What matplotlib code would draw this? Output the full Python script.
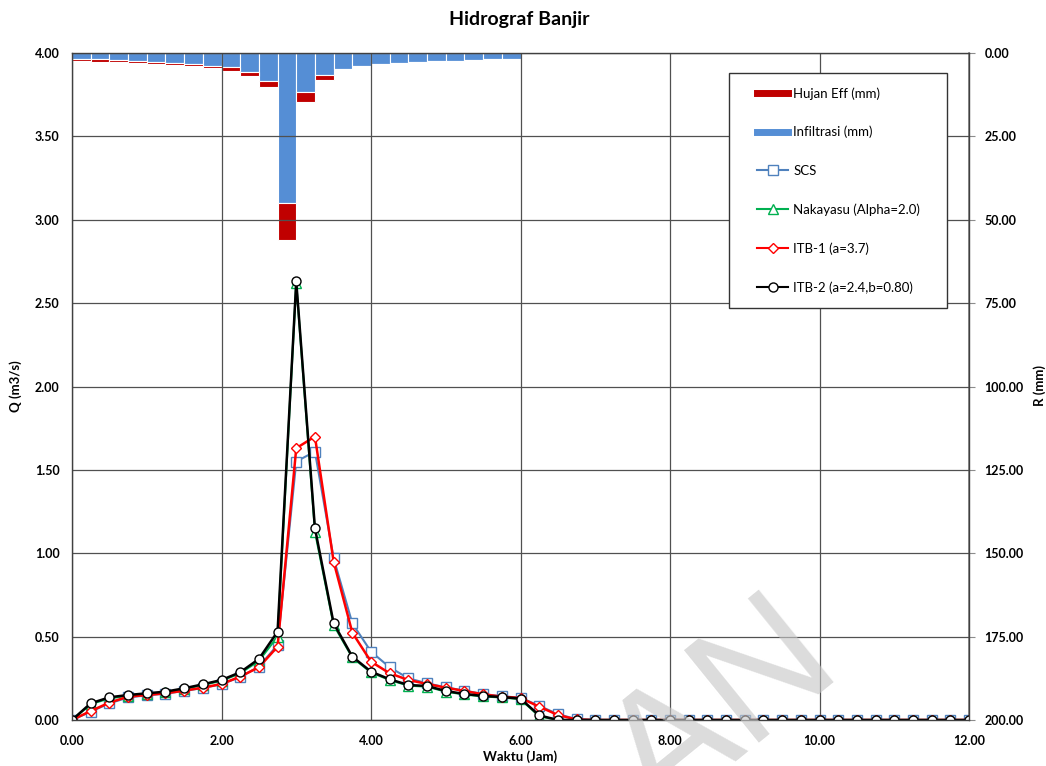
import numpy as np
import matplotlib
matplotlib.use("Agg")
import matplotlib.pyplot as plt
from matplotlib.lines import Line2D
from matplotlib.patches import Rectangle

plt.rcParams['font.family'] = ['Lato', 'DejaVu Sans']

# ---------------- data ----------------
time_step = 0.25
t = np.arange(0, 12.0 + 1e-9, time_step)          # hours, 49 points

scs = [0, 0.05, 0.10, 0.135, 0.148, 0.158, 0.174, 0.192, 0.214, 0.258, 0.32, 0.45,
       1.55, 1.61, 0.97, 0.58, 0.41, 0.316, 0.25, 0.22, 0.196, 0.176, 0.156, 0.142,
       0.134, 0.085, 0.035, 0.005] + [0.0] * 21
nakayasu = [0, 0.095, 0.13, 0.145, 0.155, 0.165, 0.185, 0.21, 0.235, 0.28, 0.355, 0.50,
            2.62, 1.13, 0.57, 0.375, 0.285, 0.24, 0.206, 0.20, 0.17, 0.153, 0.141, 0.135,
            0.125, 0.022, 0.0] + [0.0] * 22
itb1 = [0, 0.054, 0.104, 0.14, 0.15, 0.16, 0.176, 0.194, 0.216, 0.26, 0.316, 0.44,
        1.63, 1.70, 0.95, 0.524, 0.35, 0.28, 0.24, 0.216, 0.194, 0.174, 0.154, 0.14,
        0.132, 0.08, 0.03, 0.003] + [0.0] * 21
itb2 = [0, 0.10, 0.136, 0.15, 0.16, 0.17, 0.19, 0.214, 0.24, 0.286, 0.366, 0.53,
        2.63, 1.15, 0.58, 0.38, 0.29, 0.244, 0.21, 0.204, 0.174, 0.156, 0.144, 0.138,
        0.128, 0.028, 0.0] + [0.0] * 22

# rainfall per 0.25 h interval (mm), 0 - 6 h
infiltrasi = [1.8, 1.8, 2.1, 2.3, 2.6, 2.9, 3.3, 3.8, 4.3, 5.8, 8.3, 44.9,
              11.8, 6.6, 4.9, 3.8, 3.4, 2.9, 2.7, 2.3, 2.3, 2.1, 1.9, 1.9]
hujan_eff = [0.6, 0.8, 0.6, 0.8, 0.6, 0.7, 0.7, 0.8, 1.2, 1.1, 1.9, 11.2,
             2.8, 1.5, 0, 0, 0, 0, 0, 0, 0, 0, 0, 0]
rain_start = np.arange(len(infiltrasi)) * time_step

x_ticks = [0, 2, 4, 6, 8, 10, 12]
q_ticks = [0, 0.5, 1.0, 1.5, 2.0, 2.5, 3.0, 3.5, 4.0]
r_ticks = [0, 25, 50, 75, 100, 125, 150, 175, 200]

legend_labels = ['Hujan Eff (mm)', 'Infiltrasi (mm)', 'SCS', 'Nakayasu (Alpha=2.0)',
                 'ITB-1 (a=3.7)', 'ITB-2 (a=2.4,b=0.80)']

# ---------------- colors ----------------
c_blue_bar = '#558ED5'
c_red_bar = '#C00000'
c_scs = '#4F81BD'
c_nak = '#00B050'
c_itb1 = '#FF0000'
c_itb2 = '#000000'
grid_c = '#505050'

W, H = 1046, 766
fig = plt.figure(figsize=(W / 100, H / 100), dpi=100)
L, R, B, T = 72, 969, 720, 53
ax = fig.add_axes([L / W, 1 - B / H, (R - L) / W, (B - T) / H])

ax.set_xlim(0, 12)
ax.set_ylim(0, 4)
ax.set_xticks(x_ticks)
ax.set_yticks(q_ticks)
ax.set_xticklabels([f"{v:.2f}" for v in x_ticks])
ax.set_yticklabels([f"{v:.2f}" for v in q_ticks])
ax.grid(True, color=grid_c, lw=0.9)
ax.set_axisbelow(True)
for s in ax.spines.values():
    s.set_color('#404040')
    s.set_linewidth(1.0)
ax.tick_params(axis='x', length=0, pad=11, labelsize=9)
ax.tick_params(axis='y', length=0, pad=9, labelsize=9)
for lab in ax.get_xticklabels() + ax.get_yticklabels():
    lab.set_fontweight('bold')

# secondary axis for rainfall bars
ax2 = ax.twinx()
ax2.set_ylim(200, 0)
ax2.set_yticks(r_ticks)
ax2.set_yticklabels([f"{v:.2f}" for v in r_ticks])
ax2.tick_params(axis='y', length=4, color='#8c8c8c', pad=7, labelsize=9)
for lab in ax2.get_yticklabels():
    lab.set_fontweight('bold')
ax2.spines['right'].set_color('#8c8c8c')
ax2.spines['right'].set_linewidth(1.2)
for k in ['left', 'top', 'bottom']:
    ax2.spines[k].set_visible(False)

ax2.bar(rain_start, infiltrasi, width=time_step, align='edge', color=c_blue_bar,
        edgecolor='white', linewidth=0.8, zorder=2)
ax2.bar(rain_start, hujan_eff, width=time_step, align='edge', bottom=infiltrasi,
        color=c_red_bar, edgecolor='white', linewidth=0.8, zorder=2)

# hydrograph lines on top
ax.set_zorder(ax2.get_zorder() + 1)
ax.patch.set_visible(False)

mk = dict(markersize=6.5, markerfacecolor='white', markeredgewidth=1.0)
dk = dict(markersize=5.5, markerfacecolor='white', markeredgewidth=1.0)
ax.plot(t, scs, color=c_scs, lw=1.5, marker='s', markeredgecolor=c_scs, **mk)
ax.plot(t, nakayasu, color=c_nak, lw=1.5, marker='^', markeredgecolor=c_nak, **mk)
ax.plot(t, itb1, color=c_itb1, lw=1.8, marker='D', markeredgecolor=c_itb1, **dk)
ax.plot(t, itb2, color=c_itb2, lw=1.8, marker='o', markeredgecolor=c_itb2, **mk)

# labels
fig.text(519 / W, 1 - 19 / H, 'Hidrograf Banjir', ha='center', va='center',
         fontsize=14, fontweight='bold')
fig.text(520 / W, 1 - 757 / H, 'Waktu (Jam)', ha='center', va='center',
         fontsize=9.5, fontweight='bold')
fig.text(16 / W, 1 - 386 / H, 'Q (m3/s)', ha='center', va='center', rotation=90,
         fontsize=9.5, fontweight='bold')
fig.text(1040 / W, 1 - 386 / H, 'R (mm)', ha='center', va='center', rotation=90,
         fontsize=9.5, fontweight='bold')

# legend with custom frame
handles = [
    Line2D([], [], color=c_red_bar, lw=5),
    Line2D([], [], color=c_blue_bar, lw=5),
    Line2D([], [], color=c_scs, lw=1.5, marker='s', markeredgecolor=c_scs, **mk),
    Line2D([], [], color=c_nak, lw=1.5, marker='^', markeredgecolor=c_nak, **mk),
    Line2D([], [], color=c_itb1, lw=1.5, marker='D', markeredgecolor=c_itb1, **dk),
    Line2D([], [], color=c_itb2, lw=1.5, marker='o', markeredgecolor=c_itb2, **mk),
]
fx0, fy0, fx1, fy1 = 729, 73, 947, 308
frame = Rectangle((fx0 / W, 1 - fy1 / H), (fx1 - fx0) / W, (fy1 - fy0) / H,
                  transform=fig.transFigure, facecolor='white', edgecolor='#333333',
                  lw=1.0, zorder=5)
fig.patches.append(frame)
leg = fig.legend(handles, legend_labels, loc='upper left',
                 bbox_to_anchor=(757 / W, 1 - 87 / H), bbox_transform=fig.transFigure,
                 frameon=False, fontsize=9.5, handlelength=2.35, handletextpad=0.4,
                 labelspacing=2.0, borderpad=0.0, borderaxespad=0.0)
leg.set_zorder(6)

# watermark
fig.text(846 / W, 1 - 672 / H, 'AN', ha='right', va='baseline', rotation=39,
         rotation_mode='anchor', fontsize=124, color='#c8c8c8', alpha=0.64,
         family=['Liberation Sans', 'DejaVu Sans'], zorder=10)

fig.savefig('out.png', dpi=100)
